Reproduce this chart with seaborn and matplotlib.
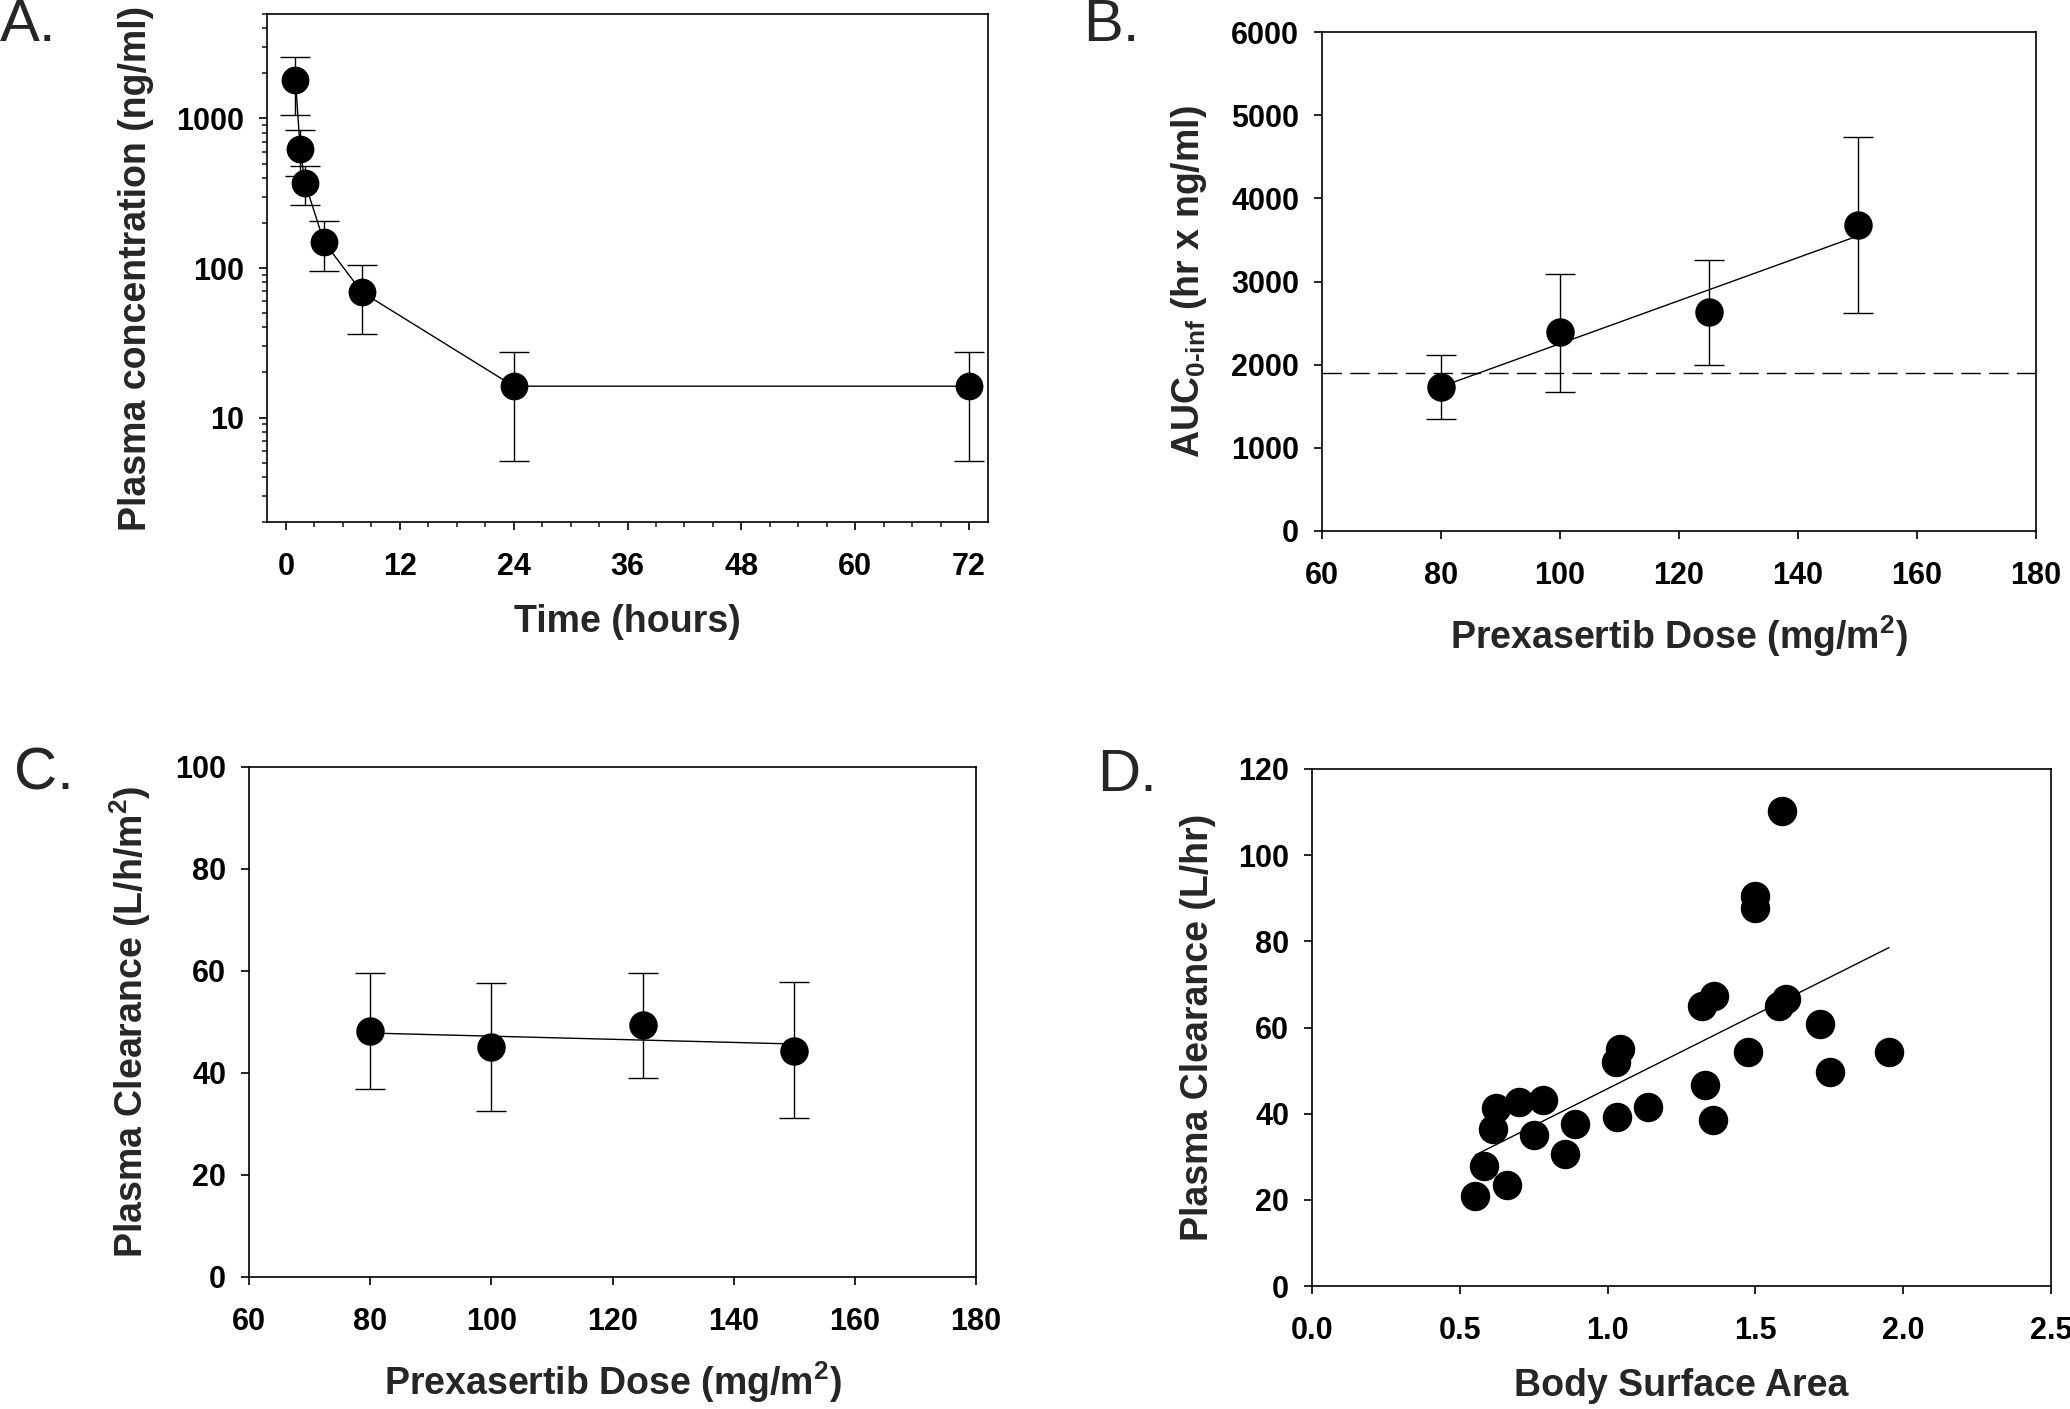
import numpy as np
import matplotlib
matplotlib.use('Agg')
import matplotlib.pyplot as plt
import seaborn as sns
from matplotlib.ticker import MultipleLocator, FixedLocator, LogLocator, NullFormatter, FuncFormatter, FormatStrFormatter

# A. plasma concentration vs time (mean with asymmetric error bars)
time_h = [1, 1.5, 2, 4, 8, 24, 72]
conc_mean = [1800, 622, 372, 150, 69, 16.2, 16.2]
conc_low = [1050, 414, 265, 95, 36, 5.1, 5.1]
conc_high = [2580, 835, 480, 205, 104, 27.4, 27.4]

# B. AUC vs dose
dose = [80, 100, 125, 150]
auc_mean = [1732, 2389, 2634, 3678]
auc_low = [1346, 1669, 1998, 2624]
auc_high = [2113, 3093, 3260, 4742]
auc_ref = 1900

# C. clearance (per m2) vs dose
cl_mean = [48.3, 45.1, 49.4, 44.4]
cl_low = [36.9, 32.6, 39.1, 31.1]
cl_high = [59.7, 57.7, 59.7, 57.9]

# D. clearance vs body surface area
bsa = [0.552, 0.582, 0.661, 0.612, 0.624, 0.701, 0.783, 0.751, 0.855, 0.890,
       1.032, 1.030, 1.042, 1.135, 1.319, 1.361, 1.331, 1.355, 1.474, 1.498,
       1.500, 1.590, 1.580, 1.604, 1.719, 1.753, 1.952]
cl_abs = [20.9, 27.9, 23.5, 36.5, 41.4, 42.7, 43.2, 35.0, 30.6, 37.5,
          39.3, 52.1, 54.9, 41.6, 64.9, 67.2, 46.7, 38.5, 54.4, 90.6,
          87.8, 110.3, 64.9, 66.7, 60.8, 49.7, 54.4]

sns.set_style('ticks')
plt.rcParams['font.family'] = ['Liberation Sans', 'DejaVu Sans']
plt.rcParams['font.weight'] = 'bold'
plt.rcParams['axes.labelweight'] = 'bold'
plt.rcParams['mathtext.fontset'] = 'custom'
plt.rcParams['mathtext.rm'] = 'Liberation Sans:bold'
plt.rcParams['mathtext.it'] = 'Liberation Sans:bold'
plt.rcParams['mathtext.bf'] = 'Liberation Sans:bold'
plt.rcParams['mathtext.sf'] = 'Liberation Sans:bold'

W, H = 2070, 1409
fig = plt.figure(figsize=(W / 100, H / 100), dpi=100)


def make_axes(l, t, r, b):
    return fig.add_axes([l / W, 1 - b / H, (r - l) / W, (b - t) / H])


def style(ax):
    for s in ax.spines.values():
        s.set_linewidth(1.2)
        s.set_color('black')
        s.set_visible(True)
    ax.tick_params(which='major', direction='out', length=5.5, width=1.2,
                   labelsize=22, colors='black')
    ax.tick_params(which='minor', direction='out', length=3.5, width=1.2)
    ax.tick_params(axis='x', which='major', pad=16)
    ax.tick_params(axis='y', which='major', pad=11)
    ax.tick_params(top=False, right=False, which='both')


ebar = dict(fmt='none', ecolor='black', elinewidth=1.0, capsize=11, capthick=1.0, zorder=1)
label_size = 27

# ---------------- A ----------------
axA = make_axes(267, 14, 988, 522)
axA.set_yscale('log')
axA.errorbar(time_h, conc_mean,
             yerr=[np.array(conc_mean) - np.array(conc_low), np.array(conc_high) - np.array(conc_mean)],
             **ebar)
sns.lineplot(x=time_h, y=conc_mean, ax=axA, color='black', lw=1.0, marker='o',
             markersize=20, markeredgewidth=0, zorder=3)
axA.set_xlim(-2, 74)
axA.set_ylim(2, 5000)
axA.xaxis.set_major_locator(MultipleLocator(12))
axA.xaxis.set_minor_locator(MultipleLocator(3))
axA.yaxis.set_major_locator(FixedLocator([10, 100, 1000]))
axA.yaxis.set_major_formatter(FuncFormatter(lambda v, p: f'{v:g}'))
axA.yaxis.set_minor_locator(LogLocator(base=10, subs=range(2, 10)))
axA.yaxis.set_minor_formatter(NullFormatter())
style(axA)
axA.set_xlabel('Time (hours)', fontsize=label_size, labelpad=16)
axA.set_ylabel('Plasma concentration (ng/ml)', fontsize=label_size, labelpad=16)

# ---------------- B ----------------
axB = make_axes(1322, 32, 2036, 531)
axB.errorbar(dose, auc_mean,
             yerr=[np.array(auc_mean) - np.array(auc_low), np.array(auc_high) - np.array(auc_mean)],
             **ebar)
sns.regplot(x=dose, y=auc_mean, ax=axB, ci=None, color='black',
            scatter_kws=dict(s=420, linewidths=0, alpha=1, zorder=3),
            line_kws=dict(lw=1.0, zorder=2))
axB.axhline(auc_ref, color='black', lw=1.0, ls=(0, (14, 6)), zorder=1)
axB.set_xlim(60, 180)
axB.set_ylim(0, 6000)
axB.xaxis.set_major_locator(MultipleLocator(20))
axB.yaxis.set_major_locator(MultipleLocator(1000))
style(axB)
axB.set_xlabel('Prexasertib Dose (mg/m$^{2}$)', fontsize=label_size, labelpad=16)
axB.set_ylabel('AUC$_{\\text{0-inf}}$ (hr x ng/ml)', fontsize=label_size, labelpad=16)

# ---------------- C ----------------
axC = make_axes(249, 767, 976, 1277)
axC.errorbar(dose, cl_mean,
             yerr=[np.array(cl_mean) - np.array(cl_low), np.array(cl_high) - np.array(cl_mean)],
             **ebar)
sns.regplot(x=dose, y=cl_mean, ax=axC, ci=None, color='black',
            scatter_kws=dict(s=420, linewidths=0, alpha=1, zorder=3),
            line_kws=dict(lw=1.0, zorder=2))
axC.set_xlim(60, 180)
axC.set_ylim(0, 100)
axC.xaxis.set_major_locator(MultipleLocator(20))
axC.yaxis.set_major_locator(MultipleLocator(20))
style(axC)
axC.set_xlabel('Prexasertib Dose (mg/m$^{2}$)', fontsize=label_size, labelpad=16)
axC.set_ylabel('Plasma Clearance (L/h/m$^{2}$)', fontsize=label_size, labelpad=16)

# ---------------- D ----------------
axD = make_axes(1312, 769, 2051, 1286)
sns.regplot(x=bsa, y=cl_abs, ax=axD, ci=None, color='black',
            scatter_kws=dict(s=450, linewidths=0, alpha=1, zorder=3),
            line_kws=dict(lw=1.0, zorder=2))
axD.set_xlim(0, 2.5)
axD.set_ylim(0, 120)
axD.xaxis.set_major_locator(MultipleLocator(0.5))
axD.xaxis.set_major_formatter(FormatStrFormatter('%.1f'))
axD.yaxis.set_major_locator(MultipleLocator(20))
style(axD)
axD.set_xlabel('Body Surface Area', fontsize=label_size, labelpad=16)
axD.set_ylabel('Plasma Clearance (L/hr)', fontsize=label_size, labelpad=16)

# panel letters
for txt, x, y in [('A.', 0, 41), ('B.', 1083, 41), ('C.', 14, 790), ('D.', 1097, 791)]:
    fig.text(x / W, 1 - y / H, txt, fontsize=43, fontweight='normal',
             ha='left', va='baseline')

fig.savefig('out.png', dpi=100)
